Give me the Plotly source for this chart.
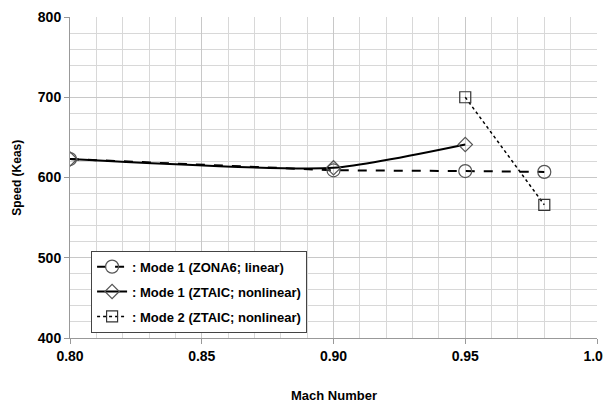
import plotly.graph_objects as go

mach_zona6 = [0.80, 0.90, 0.95, 0.98]
speed_zona6 = [623, 609, 608, 607]
mach_ztaic1 = [0.80, 0.90, 0.95]
speed_ztaic1 = [623, 612, 641]
mach_ztaic2 = [0.95, 0.98]
speed_ztaic2 = [700, 566]

names = [": Mode 1 (ZONA6; linear)", ": Mode 1 (ZTAIC; nonlinear)", ": Mode 2 (ZTAIC; nonlinear)"]

fig = go.Figure()
fig.add_trace(go.Scatter(x=mach_zona6, y=speed_zona6, name=names[0], mode="lines+markers", legendgroup="a",
                         line=dict(color="black", width=2, dash="dash"),
                         marker=dict(symbol="circle-open", size=13, color="#555555", line=dict(width=1.2))))
fig.add_trace(go.Scatter(x=mach_ztaic1, y=speed_ztaic1, name=names[1], mode="lines+markers", legendgroup="b",
                         line=dict(color="black", width=2, shape="spline", smoothing=0.6),
                         marker=dict(symbol="diamond-open", size=11, color="#555555", line=dict(width=1.2))))
fig.add_trace(go.Scatter(x=mach_ztaic2, y=speed_ztaic2, name=names[2], mode="lines+markers", legendgroup="c",
                         line=dict(color="black", width=1.5, dash="dot"),
                         marker=dict(symbol="square-open", size=11, color="#333333", line=dict(width=1.2))))

font_fam = "Liberation Sans, Arial"
fig.update_layout(
    width=603, height=399,
    margin=dict(l=62, r=14, t=9, b=69, autoexpand=False),
    paper_bgcolor="white", plot_bgcolor="white",
    font=dict(family=font_fam, size=13, color="black"),
    showlegend=True,
    legend=dict(x=0.04, y=0.272, xanchor="left", yanchor="top",
                bgcolor="white", bordercolor="#444444", borderwidth=1,
                font=dict(family=font_fam, size=13, color="black", weight="bold"),
                tracegroupgap=5, itemwidth=30),
    annotations=[
        dict(text="<b>Mach Number</b>", xref="paper", yref="paper", x=0.5, y=-0.178,
             xanchor="center", yanchor="middle", showarrow=False,
             font=dict(family=font_fam, size=13, color="black")),
        dict(text="<b>Speed (Keas)</b>", xref="paper", yref="paper", x=-0.102, y=0.5,
             xanchor="center", yanchor="middle", showarrow=False, textangle=-90,
             font=dict(family=font_fam, size=12, color="black")),
    ],
)
fig.update_xaxes(range=[0.80, 1.00], dtick=0.05, tickformat=".2f", automargin=False,
                 ticklabeloverflow="allow",
                 showgrid=True, gridcolor="#c8c8c8", gridwidth=1,
                 minor=dict(dtick=0.01, showgrid=True, gridcolor="#d8d8d8", gridwidth=1),
                 showline=True, linecolor="#999999", ticks="outside", ticklen=5, tickcolor="#999999",
                 tickfont=dict(family=font_fam, size=14, weight="bold"),
                 zeroline=False)
fig.update_yaxes(range=[400, 800], dtick=100, automargin=False,
                 ticklabeloverflow="allow",
                 showgrid=True, gridcolor="#c8c8c8", gridwidth=1,
                 minor=dict(dtick=20, showgrid=True, gridcolor="#d8d8d8", gridwidth=1),
                 showline=True, linecolor="#999999", ticks="outside", ticklen=5, tickcolor="#999999",
                 tickfont=dict(family=font_fam, size=14, weight="bold"),
                 zeroline=False)

fig.write_html("out.html")
